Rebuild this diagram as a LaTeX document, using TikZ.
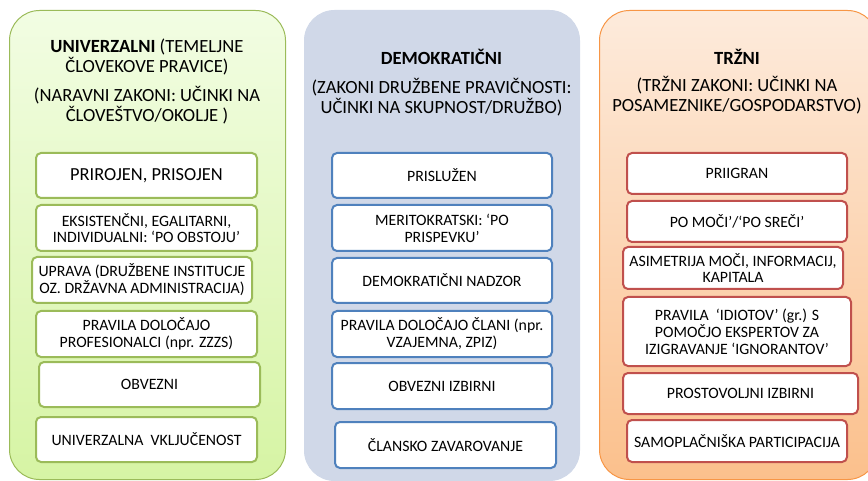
\documentclass[tikz,border=0pt]{standalone}
\usepackage{fontspec}
\setmainfont{Carlito}
\definecolor{gline}{HTML}{9BBB59}
\definecolor{gtop}{HTML}{F2FDE3}
\definecolor{gbot}{HTML}{D6F4A4}
\definecolor{bfill}{HTML}{D0D8E8}
\definecolor{bline}{HTML}{4F81BD}
\definecolor{oline}{HTML}{F79646}
\definecolor{otop}{HTML}{FDEBDC}
\definecolor{obot}{HTML}{FBC08C}
\definecolor{rline}{HTML}{C0504D}
\begin{document}
\begin{tikzpicture}[x=1pt,y=-1pt,
  panel/.style={rectangle, rounded corners=30pt, anchor=north west, inner sep=0pt, line width=1pt},
  itembox/.style={rectangle, rounded corners=5pt, fill=white, line width=2pt, inner sep=0pt, align=center, text=black, font=\fontsize{15.8}{16.8}\selectfont},
  gbox/.style={itembox, draw=gline},
  bbox/.style={itembox, draw=bline},
  rbox/.style={itembox, draw=rline},
  ttl/.style={align=center, inner sep=0pt, font=\fontsize{18.6}{19.8}\selectfont, text=black}
]
\useasboundingbox (0,0) rectangle (868,481);
\begin{scope}
\clip (0,0) rectangle (868,481);
% panels
\node[panel, draw=gline, top color=gtop, bottom color=gbot, minimum width=276pt, minimum height=469pt] (pL) at (9,10) {};
\node[panel, draw=bfill, fill=bfill, minimum width=275pt, minimum height=470pt] (pM) at (304,10) {};
\node[panel, draw=oline, top color=otop, bottom color=obot, minimum width=278pt, minimum height=469pt] (pR) at (599,10) {};
\end{scope}

% titles
\node[ttl] (tL1) at (147,57) {\textbf{UNIVERZALNI} (TEMELJNE\\ČLOVEKOVE PRAVICE)};
\node[ttl] (tL2) at (147,105.5) {(NARAVNI ZAKONI: UČINKI NA\\ČLOVEŠTVO/OKOLJE )};
\node[ttl] (tM1) at (441.5,57) {\textbf{DEMOKRATIČNI}};
\node[ttl] (tM2) at (441.5,97) {(ZAKONI DRUŽBENE PRAVIČNOSTI:\\UČINKI NA SKUPNOST/DRUŽBO)};
\node[ttl] (tR1) at (737,57) {\textbf{TRŽNI}};
\node[ttl] (tR2) at (737,95) {(TRŽNI ZAKONI: UČINKI NA\\POSAMEZNIKE/GOSPODARSTVO)};

% left boxes
\node[gbox, minimum width=221pt, minimum height=45pt, font=\fontsize{18.4}{20}\selectfont] (L1) at (146.5,175.5) {PRIROJEN, PRISOJEN};
\node[gbox, minimum width=221pt, minimum height=46pt] (L2) at (146.5,228) {EKSISTENČNI, EGALITARNI,\\INDIVIDUALNI: ‘PO OBSTOJU’};
\node[gbox, minimum width=220pt, minimum height=46pt] (L3) at (142,280) {UPRAVA (DRUŽBENE INSTITUCJE\\OZ. DRŽAVNA ADMINISTRACIJA)};
\node[gbox, minimum width=221pt, minimum height=46pt] (L4) at (146.5,334) {PRAVILA DOLOČAJO\\PROFESIONALCI (npr. ZZZS)};
\node[gbox, minimum width=221pt, minimum height=45pt] (L5) at (149.5,384.5) {OBVEZNI};
\node[gbox, minimum width=221pt, minimum height=45pt] (L6) at (146.5,439.5) {UNIVERZALNA\ \ VKLJUČENOST};

% middle boxes
\node[bbox, minimum width=220pt, minimum height=45pt] (M1) at (442,175.5) {PRISLUŽEN};
\node[bbox, minimum width=220pt, minimum height=46pt] (M2) at (442,228) {MERITOKRATSKI: ‘PO\\PRISPEVKU’};
\node[bbox, minimum width=220pt, minimum height=45pt] (M3) at (442,280.5) {DEMOKRATIČNI NADZOR};
\node[bbox, minimum width=220pt, minimum height=46pt] (M4) at (442,334) {PRAVILA DOLOČAJO ČLANI (npr.\\VZAJEMNA, ZPIZ)};
\node[bbox, minimum width=220pt, minimum height=46pt] (M5) at (442,386) {OBVEZNI IZBIRNI};
\node[bbox, minimum width=221pt, minimum height=46pt] (M6) at (445.5,445) {ČLANSKO ZAVAROVANJE};

% right boxes
\node[rbox, minimum width=220pt, minimum height=41pt] (R1) at (737,173.5) {PRIIGRAN};
\node[rbox, minimum width=220pt, minimum height=41pt] (R2) at (737,221.5) {PO MOČI’/‘PO SREČI’};
\node[rbox, minimum width=220pt, minimum height=42pt] (R3) at (733,268) {ASIMETRIJA MOČI, INFORMACIJ,\\KAPITALA};
\node[rbox, minimum width=228pt, minimum height=69pt] (R4) at (737,331.5) {PRAVILA\ \ ‘IDIOTOV’ (gr.) S\\POMOČJO EKSPERTOV ZA\\IZIGRAVANJE ‘IGNORANTOV’};
\node[rbox, minimum width=235pt, minimum height=41pt] (R5) at (740.5,393.5) {PROSTOVOLJNI IZBIRNI};
\node[rbox, minimum width=220pt, minimum height=42pt] (R6) at (737,441) {SAMOPLAČNIŠKA PARTICIPACIJA};
\end{tikzpicture}
\end{document}
